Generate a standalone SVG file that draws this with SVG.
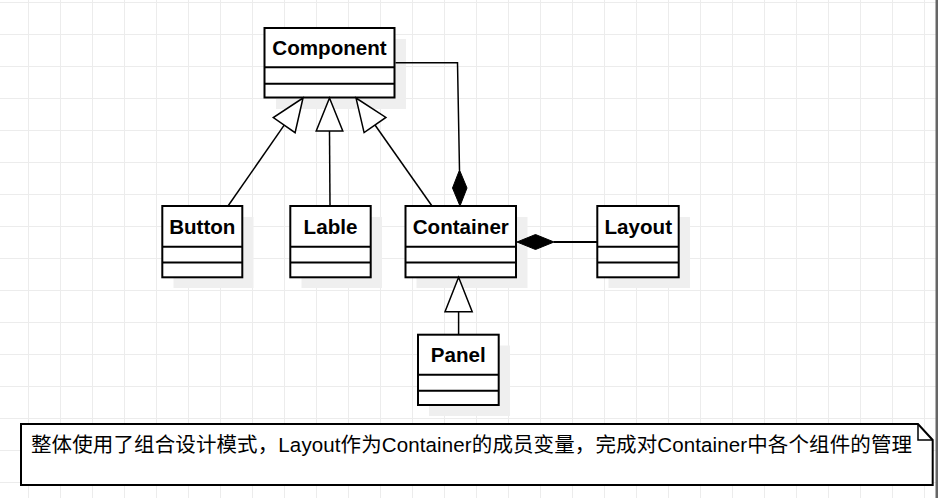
<svg xmlns="http://www.w3.org/2000/svg" width="938" height="498" viewBox="0 0 938 498">
  <style>
    .box { fill: #ffffff; stroke: #000000; stroke-width: 2; }
    .sep { stroke: #000000; stroke-width: 2; fill: none; }
    .shadow { fill: #efefef; }
    .name { font-family: "Liberation Sans", Arial, sans-serif; font-weight: bold; font-size: 20.6px; text-anchor: middle; fill: #000000; }
    .conn { stroke: #000000; stroke-width: 1.5; fill: none; }
    .tri { fill: #ffffff; stroke: #000000; stroke-width: 1.5; stroke-linejoin: miter; }
    .dia { fill: #000000; stroke: #000000; stroke-width: 1; }
    .note { fill: #ffffff; stroke: #000000; stroke-width: 2; stroke-linejoin: miter; }
    .notetext { font-family: "Liberation Sans", "Noto Sans CJK SC", sans-serif; font-size: 20.5px; fill: #000000; }
  </style>
  <defs>
    <pattern id="grid" patternUnits="userSpaceOnUse" x="28" y="2" width="32" height="32">
      <rect x="0" y="0" width="1" height="32" fill="#ececec"/>
      <rect x="0" y="0" width="32" height="1" fill="#ececec"/>
    </pattern>
  </defs>

  <rect x="0" y="0" width="938" height="498" fill="#ffffff"/>
  <rect x="0" y="0" width="938" height="498" fill="url(#grid)"/>
  <rect x="935.5" y="0" width="2.5" height="498" fill="#666666"/>

  <g id="component">
    <rect class="shadow" x="276" y="39" width="130" height="70"/>
    <rect class="box" x="264.5" y="28" width="130" height="69.5"/>
    <line class="sep" x1="264.5" y1="67.3" x2="394.5" y2="67.3"/>
    <line class="sep" x1="264.5" y1="83.7" x2="394.5" y2="83.7"/>
    <text class="name" x="329.5" y="55">Component</text>
  </g>

  <g id="button">
    <rect class="shadow" x="173.5" y="217" width="80" height="71"/>
    <rect class="box" x="162.3" y="206" width="80" height="71.3"/>
    <line class="sep" x1="162.3" y1="246.7" x2="242.3" y2="246.7"/>
    <line class="sep" x1="162.3" y1="262.5" x2="242.3" y2="262.5"/>
    <text class="name" x="202.3" y="234.3">Button</text>
  </g>

  <g id="lable">
    <rect class="shadow" x="301.5" y="217" width="80.5" height="71"/>
    <rect class="box" x="290.3" y="206" width="80.4" height="71.3"/>
    <line class="sep" x1="290.3" y1="246.7" x2="370.7" y2="246.7"/>
    <line class="sep" x1="290.3" y1="262.5" x2="370.7" y2="262.5"/>
    <text class="name" x="330.5" y="234.3">Lable</text>
  </g>

  <g id="container">
    <rect class="shadow" x="416.5" y="217" width="111" height="71"/>
    <rect class="box" x="405.5" y="206" width="110.5" height="71.3"/>
    <line class="sep" x1="405.5" y1="246.7" x2="516" y2="246.7"/>
    <line class="sep" x1="405.5" y1="262.5" x2="516" y2="262.5"/>
    <text class="name" x="460.8" y="234.3">Container</text>
  </g>

  <g id="layout">
    <rect class="shadow" x="608.5" y="217" width="81.5" height="71"/>
    <rect class="box" x="597.3" y="206" width="81.4" height="71.3"/>
    <line class="sep" x1="597.3" y1="246.7" x2="678.7" y2="246.7"/>
    <line class="sep" x1="597.3" y1="262.5" x2="678.7" y2="262.5"/>
    <text class="name" x="638.3" y="234.3">Layout</text>
  </g>

  <g id="panel">
    <rect class="shadow" x="429" y="345.5" width="81" height="70.5"/>
    <rect class="box" x="418" y="334.7" width="80.7" height="70.3"/>
    <line class="sep" x1="418" y1="374.7" x2="498.7" y2="374.7"/>
    <line class="sep" x1="418" y1="390.7" x2="498.7" y2="390.7"/>
    <text class="name" x="458.3" y="361.7">Panel</text>
  </g>

  <g id="connectors">
    <!-- Button -> Component generalization -->
    <line class="conn" x1="228" y1="206" x2="284.2" y2="125.1"/>
    <polygon class="tri" points="303,98 295.1,132.7 273.3,117.5"/>
    <!-- Lable -> Component -->
    <line class="conn" x1="330" y1="206" x2="329.5" y2="131"/>
    <polygon class="tri" points="329.5,98 342.8,131 316.2,131"/>
    <!-- Container -> Component -->
    <line class="conn" x1="432" y1="206" x2="375" y2="125"/>
    <polygon class="tri" points="356,98 385.9,117.4 364.1,132.6"/>
    <!-- Component composed in Container -->
    <polyline class="conn" points="395.5,62.7 457.5,62.7 459.5,170"/>
    <polygon class="dia" points="459.5,170 467,188 460,206 452.5,188"/>
    <!-- Layout composed in Container -->
    <line class="conn" x1="554" y1="242" x2="597" y2="242" style="stroke-width:2"/>
    <polygon class="dia" points="517,242 535.5,234.5 554,242 535.5,249.5"/>
    <!-- Panel -> Container -->
    <line class="conn" x1="458.6" y1="334.7" x2="458.6" y2="311.7"/>
    <polygon class="tri" points="458.6,277.3 472.2,311.7 445,311.7"/>
  </g>

  <g id="note">
    <path class="note" d="M21,424 H918 L932.7,440 V485 H21 Z"/>
    <path class="sep" d="M918,424 V440 H932.7" style="stroke-width:1.5"/>
    <text class="notetext" x="31" y="452" textLength="881" lengthAdjust="spacing">整体使用了组合设计模式，Layout作为Container的成员变量，完成对Container中各个组件的管理</text>
  </g>
</svg>
